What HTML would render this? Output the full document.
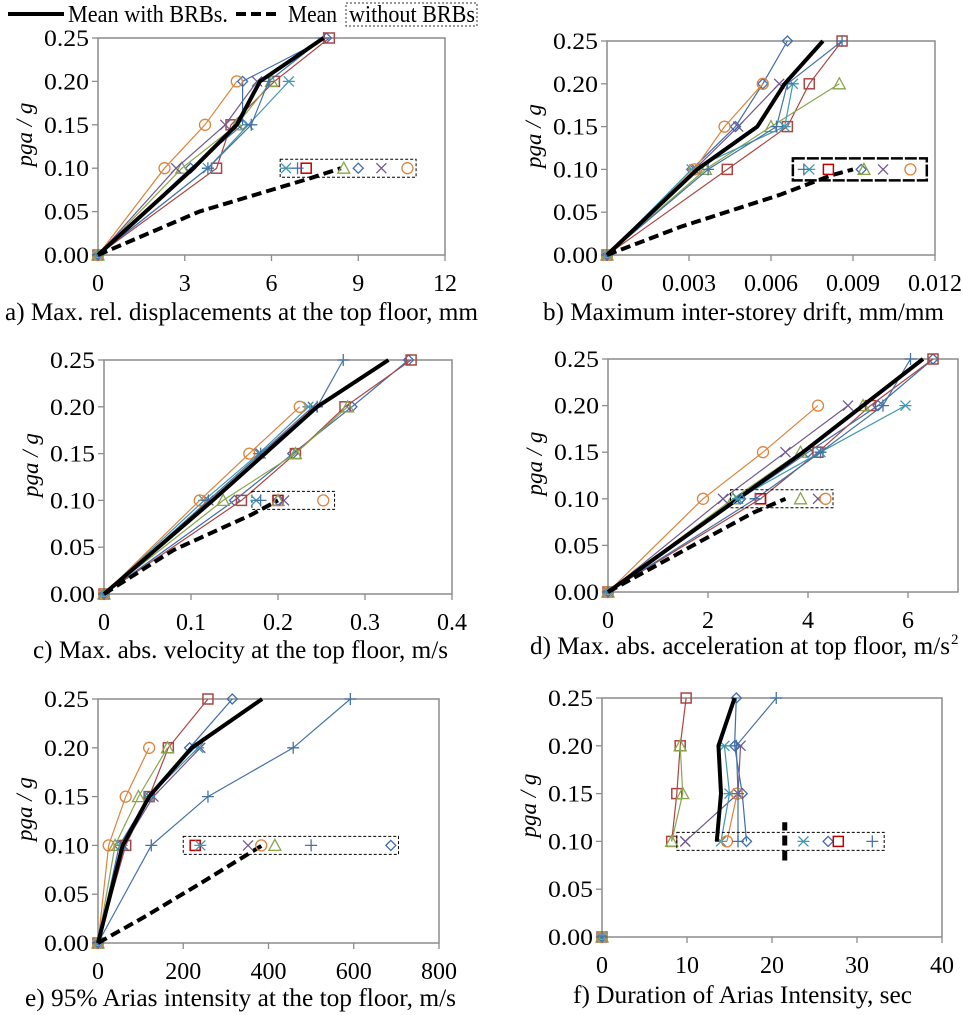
<!DOCTYPE html>
<html><head><meta charset="utf-8">
<style>
html,body{margin:0;padding:0;background:#fff;}
svg{display:block;}
svg text{font-family:"Liberation Serif","Times New Roman","DejaVu Serif",serif;}
</style></head>
<body>
<svg id="fig" width="963" height="1015" viewBox="0 0 963 1015" xmlns="http://www.w3.org/2000/svg" font-family="Liberation Serif, Times New Roman, DejaVu Serif, serif">
  <g>
    <line x1="8" y1="14" x2="64" y2="14" stroke="#000" stroke-width="4"/>
    <text x="68" y="22" font-size="24" textLength="160" lengthAdjust="spacingAndGlyphs">Mean with BRBs.</text>
    <line x1="236" y1="14" x2="280" y2="14" stroke="#000" stroke-width="4" stroke-dasharray="10,5"/>
    <text x="288" y="22" font-size="24" textLength="49" lengthAdjust="spacingAndGlyphs">Mean</text>
    <rect x="346" y="3" width="131" height="23" fill="none" stroke="#333" stroke-width="1" stroke-dasharray="2,2"/>
    <text x="349" y="22" font-size="24" textLength="126" lengthAdjust="spacingAndGlyphs">without BRBs</text>
  </g>
</svg>
<script>
const PGA=[0,0.1,0.15,0.2,0.25];
const seriesKeys=["diamond","square","triangle","cross","asterisk","circle","plus"];
const aDiamond=[0,3.2,5.0,5.0,7.9];
const aSquare=[0,4.1,4.6,6.1,8.0];
const aTriangle=[0,2.9,4.8,6.0,null];
const aCross=[0,2.7,4.4,5.5,null];
const aAsterisk=[0,3.8,5.2,6.6,null];
const aCircle=[0,2.3,3.7,4.8,null];
const aPlus=[0,3.8,5.3,5.9,7.8];
const aMean=[0,3.3,4.8,5.6,7.8];
const aDashX=[0,3.5,7.3,8.4];
const aDashY=[0,0.05,0.088,0.1];
const aBox=[6.3,11.0];
const aLegX=[9.0,7.2,8.5,9.8,6.5,10.7,6.9];
const bDiamond=[0,0.0031,0.0047,0.0057,0.0066];
const bSquare=[0,0.0044,0.0066,0.0074,0.0086];
const bTriangle=[0,0.0036,0.0060,0.0085,null];
const bCross=[0,0.0032,0.0048,0.0063,null];
const bAsterisk=[0,0.0031,0.0065,0.0068,null];
const bCircle=[0,0.0032,0.0043,0.0057,null];
const bPlus=[0,0.0037,0.0062,0.0066,0.0086];
const bMean=[0,0.0033,0.0055,0.0065,0.0079];
const bDashX=[0,0.0027,0.0063,0.0082,0.009];
const bDashY=[0,0.033,0.07,0.093,0.1];
const bBox=[0.0068,0.0117];
const bLegX=[0.0093,0.0081,0.0094,0.0101,0.0074,0.0111,0.0072];
const cDiamond=[0,0.15,0.217,0.285,0.35];
const cSquare=[0,0.158,0.22,0.277,0.353];
const cTriangle=[0,0.137,0.22,0.28,null];
const cCross=[0,0.12,0.18,0.24,null];
const cAsterisk=[0,0.115,0.178,0.235,null];
const cCircle=[0,0.11,0.167,0.225,null];
const cPlus=[0,0.12,0.18,0.245,0.275];
const cMean=[0,0.125,0.185,0.245,0.327];
const cDashX=[0,0.08,0.17,0.2];
const cDashY=[0,0.047,0.085,0.1];
const cBox=[0.17,0.265];
const cLegX=[0.2,0.2,0.2,0.207,0.175,0.252,0.18];
const dDiamond=[0,2.65,4.0,5.4,6.5];
const dSquare=[0,3.05,4.2,5.25,6.5];
const dTriangle=[0,2.5,3.85,5.1,null];
const dCross=[0,2.3,3.55,4.8,null];
const dAsterisk=[0,2.6,4.25,5.95,null];
const dCircle=[0,1.9,3.1,4.2,null];
const dPlus=[0,2.95,4.25,5.5,6.05];
const dMean=[0,2.6,3.9,5.1,6.3];
const dDashX=[0,1.7,2.9,3.55];
const dDashY=[0,0.05,0.085,0.1];
const dBox=[2.45,4.5];
const dLegX=[2.65,3.05,3.85,4.2,2.6,4.35,2.95];
const eDiamond=[0,50,120,215,315];
const eSquare=[0,65,120,165,258];
const eTriangle=[0,40,95,163,null];
const eCross=[0,60,130,240,null];
const eAsterisk=[0,55,120,235,null];
const eCircle=[0,25,65,120,null];
const ePlus=[0,125,258,458,592];
const eMean=[0,58,120,220,385];
const eDashX=[0,106,240,385];
const eDashY=[0,0.026,0.061,0.1];
const eBox=[200,705];
const eLegX=[687,228,415,352,240,383,500];
const fDiamond=[0,17.0,16.5,15.6,15.8];
const fSquare=[0,8.2,8.8,9.2,9.9];
const fTriangle=[0,8.2,9.5,9.2,null];
const fCross=[0,9.8,16.0,16.3,null];
const fAsterisk=[0,14.0,15.0,14.4,null];
const fCircle=[0,14.7,15.9,null,null];
const fPlus=[0,16.0,16.0,15.8,20.5];
const fMean=[null,13.5,14.0,13.7,15.6];
const fDashX=[21.5,21.5];
const fDashY=[0.08,0.12];
const fBox=[8.8,33.2];
const fLegX=[26.6,27.8,null,9.8,23.7,null,31.8];

const xTicksA=["0","3","6","9","12"], xTickValsA=[0,3,6,9,12];
const xTicksB=["0","0.003","0.006","0.009","0.012"], xTickValsB=[0,0.003,0.006,0.009,0.012];
const xTicksC=["0","0.1","0.2","0.3","0.4"], xTickValsC=[0,0.1,0.2,0.3,0.4];
const xTicksD=["0","2","4","6"], xTickValsD=[0,2,4,6];
const xTicksE=["0","200","400","600","800"], xTickValsE=[0,200,400,600,800];
const xTicksF=["0","10","20","30","40"], xTickValsF=[0,10,20,30,40];
const yTicks=["0.00","0.05","0.10","0.15","0.20","0.25"], yTickVals=[0,0.05,0.1,0.15,0.2,0.25];

const COLORS={diamond:"#3D6CB0",square:"#AA4643",triangle:"#89A54E",cross:"#71588F",asterisk:"#4198AF",circle:"#DB843D",plus:"#4572A7"};
const NS="http://www.w3.org/2000/svg";
const FF="Liberation Serif, Times New Roman, DejaVu Serif, serif";
const svg=document.getElementById("fig");
function mk(parent,tag,attrs){const e=document.createElementNS(NS,tag);for(const k in attrs)e.setAttribute(k,attrs[k]);parent.appendChild(e);return e;}

const panels=[
 {id:"a",x0:98,x1:445,y0:38,y1:255,xmax:12,ticks:xTicksA,tv:xTickValsA,cap:"a) Max. rel. displacements at the top floor, mm",capY:320,capL:5,capR:478,
  s:[aDiamond,aSquare,aTriangle,aCross,aAsterisk,aCircle,aPlus],mean:aMean,dx:aDashX,dy:aDashY,box:aBox,leg:aLegX,boxStyle:"thin",lineFrom0:true},
 {id:"b",x0:607,x1:935,y0:41,y1:255,xmax:0.012,ticks:xTicksB,tv:xTickValsB,cap:"b) Maximum inter-storey drift, mm/mm",capY:320,capL:543,capR:944,
  s:[bDiamond,bSquare,bTriangle,bCross,bAsterisk,bCircle,bPlus],mean:bMean,dx:bDashX,dy:bDashY,box:bBox,leg:bLegX,boxStyle:"thick",lineFrom0:true},
 {id:"c",x0:104,x1:452,y0:360,y1:594,xmax:0.4,ticks:xTicksC,tv:xTickValsC,cap:"c) Max. abs. velocity at the top floor, m/s",capY:658,capL:33,capR:448,
  s:[cDiamond,cSquare,cTriangle,cCross,cAsterisk,cCircle,cPlus],mean:cMean,dx:cDashX,dy:cDashY,box:cBox,leg:cLegX,boxStyle:"thin",lineFrom0:true},
 {id:"d",x0:608,x1:958,y0:359,y1:592,xmax:7,ticks:xTicksD,tv:xTickValsD,cap:"d) Max. abs. acceleration at top floor, m/s",sup:"2",capY:654,capL:530,capR:950,
  s:[dDiamond,dSquare,dTriangle,dCross,dAsterisk,dCircle,dPlus],mean:dMean,dx:dDashX,dy:dDashY,box:dBox,leg:dLegX,boxStyle:"thin",lineFrom0:true},
 {id:"e",x0:98,x1:439,y0:699,y1:943,xmax:800,ticks:xTicksE,tv:xTickValsE,cap:"e) 95% Arias intensity at the top floor, m/s",capY:1006,capL:25,capR:456,
  s:[eDiamond,eSquare,eTriangle,eCross,eAsterisk,eCircle,ePlus],mean:eMean,dx:eDashX,dy:eDashY,box:eBox,leg:eLegX,boxStyle:"thin",lineFrom0:true},
 {id:"f",x0:602,x1:942,y0:698,y1:937,xmax:40,ticks:xTicksF,tv:xTickValsF,cap:"f) Duration of Arias Intensity, sec",capY:1003,capL:573,capR:912,
  s:[fDiamond,fSquare,fTriangle,fCross,fAsterisk,fCircle,fPlus],mean:fMean,dx:fDashX,dy:fDashY,box:fBox,leg:fLegX,boxStyle:"thin",lineFrom0:false,vertDash:true}
];

function marker(g,kind,x,y,col){
  const r=5;let e;
  if(kind==="diamond"){e=mk(g,"polygon",{points:`${x},${y-r} ${x+r},${y} ${x},${y+r} ${x-r},${y}`,fill:"none",stroke:col,"stroke-width":1.3});}
  else if(kind==="square"){e=mk(g,"rect",{x:x-r,y:y-r,width:2*r,height:2*r,fill:"none",stroke:col,"stroke-width":1.5});}
  else if(kind==="triangle"){e=mk(g,"polygon",{points:`${x},${y-r-1} ${x+r+1},${y+r} ${x-r-1},${y+r}`,fill:"none",stroke:col,"stroke-width":1.3});}
  else if(kind==="circle"){e=mk(g,"circle",{cx:x,cy:y,r:r+0.5,fill:"none",stroke:col,"stroke-width":1.3});}
  else if(kind==="cross"){e=mk(g,"path",{d:`M${x-r},${y-r}L${x+r},${y+r}M${x-r},${y+r}L${x+r},${y-r}`,stroke:col,"stroke-width":1.3,fill:"none"});}
  else if(kind==="plus"){e=mk(g,"path",{d:`M${x-r-1},${y}L${x+r+1},${y}M${x},${y-r-1}L${x},${y+r+1}`,stroke:col,"stroke-width":1.3,fill:"none"});}
  else {e=mk(g,"path",{d:`M${x-r},${y-r}L${x+r},${y+r}M${x-r},${y+r}L${x+r},${y-r}M${x-r-1},${y}L${x+r+1},${y}`,stroke:col,"stroke-width":1.3,fill:"none"});}
  
  
}

panels.forEach(p=>{
  const sx=v=>p.x0+v/p.xmax*(p.x1-p.x0);
  const sy=v=>p.y1-v/0.25*(p.y1-p.y0);
  const g=mk(svg,"g",{});
  
  
  const frame=mk(g,"rect",{x:p.x0,y:p.y0,width:p.x1-p.x0,height:p.y1-p.y0,fill:"none",stroke:"#8c8c8c","stroke-width":1.5});
  
  
  yTickVals.forEach((v,i)=>{
    mk(g,"line",{x1:p.x0-6,x2:p.x0,y1:sy(v),y2:sy(v),stroke:"#8c8c8c","stroke-width":1.3});
    const t=mk(g,"text",{x:p.x0-54,y:sy(v)+8,"font-size":23,"font-family":FF,textLength:45,lengthAdjust:"spacingAndGlyphs"});t.textContent=yTicks[i];
    
    
  });
  p.tv.forEach((v,i)=>{
    mk(g,"line",{x1:sx(v),x2:sx(v),y1:p.y1,y2:p.y1+6,stroke:"#8c8c8c","stroke-width":1.3});
    const t=mk(g,"text",{x:sx(v),y:p.y1+36,"font-size":24,"text-anchor":"middle","font-family":FF});t.textContent=p.ticks[i];
    
    
  });
  const cy=(p.y0+p.y1)/2-12, lx=p.x0-66;
  const yl=mk(g,"text",{x:lx,y:cy,"font-size":23,"font-style":"italic","text-anchor":"middle","font-family":FF,transform:`rotate(-90 ${lx} ${cy})`});
  yl.textContent="pga / g";
  
  
  const cap=mk(g,"text",{x:p.capL,y:p.capY,"font-size":25,"font-family":FF,textLength:p.capR-p.capL,lengthAdjust:"spacingAndGlyphs"});
  cap.textContent=p.cap;
  
  
  if(p.sup){const ts=mk(g,"text",{x:p.capR+1,y:p.capY-10,"font-size":15,"font-family":FF});ts.textContent=p.sup;
    
    }
  p.s.forEach((arr,si)=>{
    const k=seriesKeys[si], col=COLORS[k];
    const pts=[];
    arr.forEach((v,i)=>{ if(v!==null && (p.lineFrom0||i>0)) pts.push([sx(v),sy(PGA[i])]); });
    const pl=mk(g,"polyline",{points:pts.map(q=>q.join(",")).join(" "),fill:"none",stroke:col,"stroke-width":1.2});
    
    
    arr.forEach((v,i)=>{ if(v!==null) marker(g,k,sx(v),sy(PGA[i]),col); });
  });
  const mp=[];p.mean.forEach((v,i)=>{if(v!==null)mp.push([sx(v),sy(PGA[i])]);});
  const ml=mk(g,"polyline",{points:mp.map(q=>q.join(",")).join(" "),fill:"none",stroke:"#000","stroke-width":4,"stroke-linejoin":"round"});
  
  
  const dp=p.dx.map((v,i)=>[sx(v),sy(p.dy[i])]);
  const dl=mk(g,"polyline",{points:dp.map(q=>q.join(",")).join(" "),fill:"none",stroke:"#000","stroke-width":p.vertDash?5:4,"stroke-dasharray":"10,5"});
  
  
  const bx=mk(g,"rect",{x:sx(p.box[0]),y:sy(0.1)-(p.boxStyle==="thick"?11:9),width:sx(p.box[1])-sx(p.box[0]),height:p.boxStyle==="thick"?22:18,fill:"none",stroke:"#000","stroke-width":p.boxStyle==="thick"?2.5:1,"stroke-dasharray":p.boxStyle==="thick"?"12,2":"3,2"});
  
  
  p.leg.forEach((v,i)=>{ if(v!==null){ const k=seriesKeys[i]; marker(g,k,sx(v),sy(0.1),k==="square"?"#C00000":COLORS[k]); } });
});
</script>
</body></html>
